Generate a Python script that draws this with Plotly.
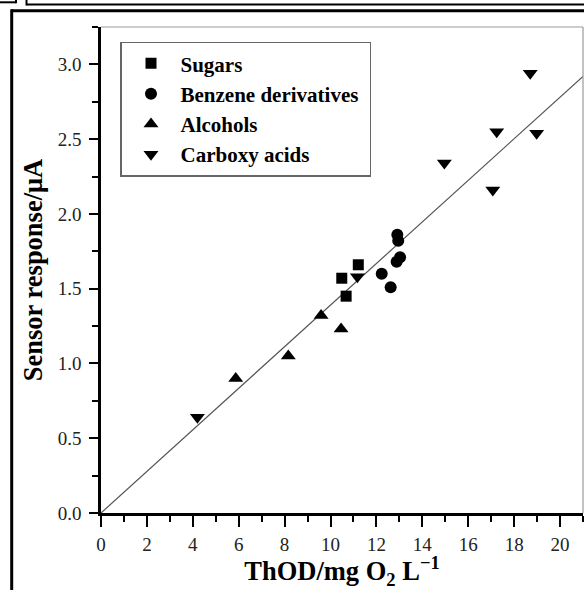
import plotly.graph_objects as go

# ---- data ----
sugars_x = [10.49, 11.21, 10.68]
sugars_y = [1.57, 1.66, 1.45]

benzene_x = [12.91, 12.95, 13.03, 12.88, 12.23, 12.62]
benzene_y = [1.86, 1.82, 1.71, 1.68, 1.60, 1.51]

alcohols_x = [5.87, 8.16, 9.59, 10.46]
alcohols_y = [0.90, 1.05, 1.32, 1.23]

carboxy_x = [4.20, 11.17, 14.96, 17.07, 17.24, 18.70, 18.98]
carboxy_y = [0.64, 1.58, 2.34, 2.16, 2.55, 2.94, 2.54]

fit_x = [0, 21]
fit_y = [0, 2.92]

x_ticks = [0, 2, 4, 6, 8, 10, 12, 14, 16, 18, 20]
y_ticks = [0.0, 0.5, 1.0, 1.5, 2.0, 2.5, 3.0]

W, H = 584, 590
L, R, T, B = 101, 1, 27, 77
PW, PH = W - L - R, H - T - B


def px(x):
    return (x - L) / PW


def py(y):
    return (H - B - y) / PH


SERIF = "Liberation Serif, Times New Roman, serif"

fig = go.Figure()

fig.add_trace(go.Scatter(x=fit_x, y=fit_y, mode="lines",
                         line=dict(color="#555555", width=1.2),
                         showlegend=False, hoverinfo="skip"))

series = [
    ("Sugars", sugars_x, sugars_y, "square", 11),
    ("Benzene derivatives&nbsp;", benzene_x, benzene_y, "circle", 12),
    ("Alcohols", alcohols_x, alcohols_y, "triangle-up", 13),
    ("Carboxy acids", carboxy_x, carboxy_y, "triangle-down", 13),
]
for name, xs, ys, sym, sz in series:
    fig.add_trace(go.Scatter(x=xs, y=ys, mode="markers",
                             name="<b>" + name + "</b>",
                             marker=dict(symbol=sym, size=sz, color="black",
                                         line=dict(width=0))))

axis_common = dict(
    showgrid=False, zeroline=False, showline=True, linecolor="black",
    linewidth=2.5, ticks="outside", tickcolor="black", tickwidth=2,
    tickfont=dict(family=SERIF, size=19, color="#222"),
)

fig.update_xaxes(range=[0, 21], tickvals=x_ticks, ticklen=11,
                 minor=dict(dtick=1, ticks="outside", ticklen=6,
                            tickwidth=2, tickcolor="black"),
                 ticklabelstandoff=1,
                 title=dict(text="<b>ThOD/mg O<sub>2</sub> L<sup>−1</sup></b>",
                            font=dict(family=SERIF, size=26.5, color="black"),
                            standoff=6),
                 **axis_common)
fig.update_yaxes(range=[0, 3.25], tickvals=y_ticks, tickformat=".1f",
                 ticklen=9,
                 minor=dict(dtick=0.25, ticks="outside", ticklen=6,
                            tickwidth=2, tickcolor="black"),
                 ticklabelstandoff=4,
                 title=dict(text="<b>Sensor response/μA</b>",
                            font=dict(family=SERIF, size=26.5, color="black"),
                            standoff=8),
                 **axis_common)

shapes = [
    # thin grey top and right plot borders
    dict(type="line", xref="paper", yref="paper", x0=0, x1=1, y0=1, y1=1,
         line=dict(color="#999999", width=1.2)),
    dict(type="line", xref="paper", yref="paper", x0=1, x1=1, y0=0, y1=1,
         line=dict(color="#999999", width=1.2)),
    # outer thick frame
    dict(type="line", xref="paper", yref="paper", x0=px(11.7), x1=px(620),
         y0=py(10.7), y1=py(10.7), line=dict(color="black", width=3)),
    dict(type="line", xref="paper", yref="paper", x0=px(11.7), x1=px(11.7),
         y0=py(9.2), y1=py(620), line=dict(color="black", width=3)),
    # fragments of neighbouring boxes at the top
    dict(type="line", xref="paper", yref="paper", x0=px(26.5), x1=px(620),
         y0=py(4.5), y1=py(4.5), line=dict(color="black", width=2)),
    dict(type="line", xref="paper", yref="paper", x0=px(26.5), x1=px(26.5),
         y0=py(-5), y1=py(5.5), line=dict(color="black", width=2)),
    dict(type="line", xref="paper", yref="paper", x0=px(-5), x1=px(16),
         y0=py(2.3), y1=py(2.3), line=dict(color="black", width=2)),
    dict(type="line", xref="paper", yref="paper", x0=px(16), x1=px(16),
         y0=py(-5), y1=py(3.3), line=dict(color="black", width=2)),
]

fig.update_layout(
    width=W, height=H,
    margin=dict(l=L, r=R, t=T, b=B, autoexpand=False),
    paper_bgcolor="white", plot_bgcolor="white",
    shapes=shapes,
    showlegend=True,
    legend=dict(x=px(120), y=py(41.7), xanchor="left", yanchor="top",
                bordercolor="#666666", borderwidth=1.5, bgcolor="white",
                font=dict(family=SERIF, size=21, color="black"),
                itemwidth=49, indentation=0,
                tracegroupgap=0),
)

fig.write_html(
    "out.html",
    config={"displayModeBar": False},
    post_script="document.body.style.margin='0';document.body.style.padding='0';"
                "document.documentElement.style.overflow='hidden';",
)
